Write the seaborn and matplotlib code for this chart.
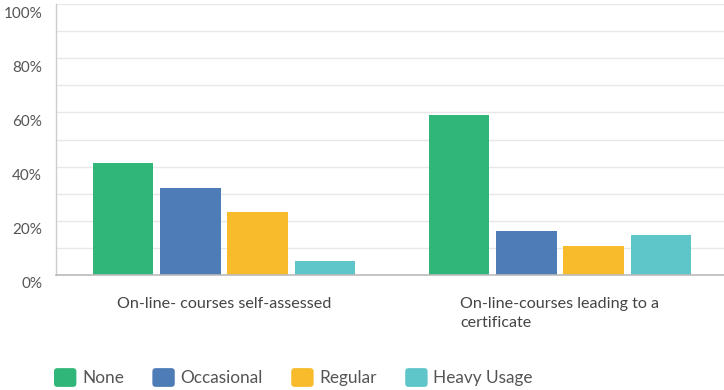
import matplotlib
matplotlib.use("Agg")
import matplotlib.pyplot as plt
import matplotlib.transforms as mtransforms
from matplotlib.patches import FancyBboxPatch, Patch
from matplotlib.legend_handler import HandlerPatch
import seaborn as sns
import pandas as pd

categories = ["On-line- courses self-assessed", "On-line-courses leading to a\ncertificate"]
usage_levels = ["None", "Occasional", "Regular", "Heavy Usage"]
none_pct = [41.5, 59.0]
occasional_pct = [32.1, 16.1]
regular_pct = [23.3, 10.6]
heavy_pct = [5.3, 14.6]
y_ticks = [0, 20, 40, 60, 80, 100]
y_tick_labels = ["0%", "20%", "40%", "60%", "80%", "100%"]

palette = ["#31B679", "#4E7CB6", "#F7BB2B", "#5EC5C8"]

rows = []
for level, vals in zip(usage_levels, [none_pct, occasional_pct, regular_pct, heavy_pct]):
    for cat, v in zip(categories, vals):
        rows.append({"category": cat, "usage": level, "pct": v})
df = pd.DataFrame(rows)

sns.set_theme(style="white")
plt.rcParams["font.family"] = ["Lato", "DejaVu Sans"]

fig = plt.figure(figsize=(7.24, 3.90), dpi=100)
ax = fig.add_axes([56 / 724, 1 - 275 / 390, 1 - 56 / 724, (275 - 4) / 390])

sns.barplot(data=df, x="category", y="pct", hue="usage", hue_order=usage_levels,
            order=categories, palette=palette, width=0.8, gap=0.1,
            saturation=1, ax=ax, legend=False, edgecolor="none")

ax.set_xlim(-0.5, 1.5 - 4 / 336)
ax.set_ylim(0, 100)
ax.set_axisbelow(True)
ax.set_yticks(y_ticks)
ax.set_yticklabels(y_tick_labels, fontsize=11, color="#555555")
ax.set_yticks(range(0, 101, 10), minor=True)
ax.yaxis.grid(True, which="both", color="#e8e8e8", linewidth=1)
ax.tick_params(axis="y", which="both", length=0, pad=10)
ax.tick_params(axis="x", length=0, pad=16)
ax.set_xlabel("")
ax.set_ylabel("")

# shift y tick labels slightly below their gridlines
offset = mtransforms.ScaledTranslation(0, -8 / 100, fig.dpi_scale_trans)
for lbl in ax.get_yticklabels():
    lbl.set_transform(lbl.get_transform() + offset)

for lbl in ax.get_xticklabels():
    lbl.set_fontsize(11.6)
    lbl.set_color("#444444")
    lbl.set_multialignment("left")
    lbl.set_linespacing(1.45)
    lbl.set_verticalalignment("top")

for side in ["top", "right"]:
    ax.spines[side].set_visible(False)
ax.spines["left"].set_color("#cccccc")
ax.spines["left"].set_linewidth(1)
ax.spines["bottom"].set_color("#bbbbbb")
ax.spines["bottom"].set_linewidth(1.2)


class RoundedHandler(HandlerPatch):
    def create_artists(self, legend, orig_handle, xdescent, ydescent, width, height, fontsize, trans):
        p = FancyBboxPatch((-xdescent, -ydescent), width, height,
                           boxstyle="round,pad=0,rounding_size=2.5",
                           facecolor=orig_handle.get_facecolor(), edgecolor="none",
                           transform=trans)
        return [p]


handles = [Patch(facecolor=c, label=l) for c, l in zip(palette, usage_levels)]
fig.legend(handles=handles, labels=usage_levels, loc="center left",
           bbox_to_anchor=(54 / 724, 1 - 377.5 / 390), ncol=4, frameon=False,
           borderpad=0, borderaxespad=0,
           handler_map={Patch: RoundedHandler()}, handlelength=1.3, handleheight=1.3,
           handletextpad=0.33, columnspacing=1.65, prop={"size": 12.4},
           labelcolor="#555555")

fig.savefig("out.png", dpi=100)
